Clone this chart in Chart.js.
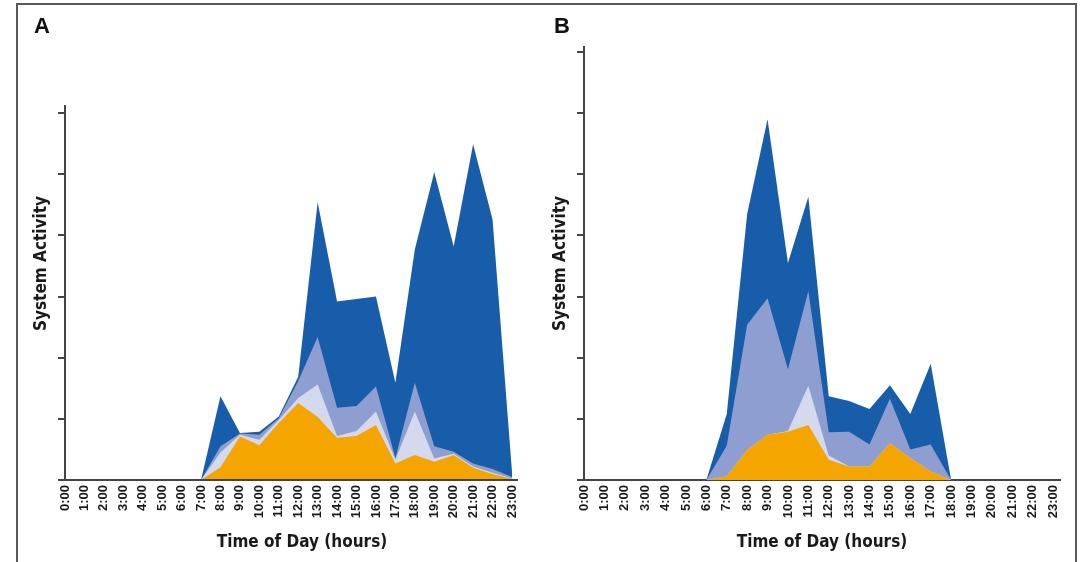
<!DOCTYPE html>
<html>
<head>
<meta charset="utf-8">
<script src="https://cdn.jsdelivr.net/npm/chart.js@4.4.1/dist/chart.umd.min.js"></script>
<style>
  html, body { margin: 0; padding: 0; background: #ffffff; }
  #wrap { position: relative; width: 1081px; height: 562px; overflow: hidden; background: #fff; }
  #frame { position: absolute; left: 16px; top: 3px; width: 1061px; height: 620px; border: 2px solid #5a5a5a; box-sizing: border-box; }
  canvas { position: absolute; left: 0; top: 0; }
  .plabel { position: absolute; font-family: "Liberation Sans", Arial, sans-serif; font-weight: bold; font-size: 22px; color: #111; line-height: 1; }
</style>
</head>
<body>
<div id="wrap">
  <div id="frame"></div>
  <canvas id="cA" width="1081" height="562"></canvas>
  <canvas id="cB" width="1081" height="562"></canvas>
  <div class="plabel" style="left:34px; top:15px;">A</div>
  <div class="plabel" style="left:554px; top:15px;">B</div>
</div>
<script>
// ---- data ----
const hours = ['0:00','1:00','2:00','3:00','4:00','5:00','6:00','7:00','8:00','9:00','10:00','11:00',
               '12:00','13:00','14:00','15:00','16:00','17:00','18:00','19:00','20:00','21:00','22:00','23:00'];
const yTicksA = [0, 1, 2, 3, 4, 5, 6];
const yTicksB = [0, 1, 2, 3, 4, 5, 6, 7];

// Panel A: top edge of each stacked band (cumulative)
const orangeA = [0,0,0,0,0,0,0,0,0.21,0.71,0.57,0.93,1.26,1.03,0.69,0.72,0.90,0.27,0.41,0.30,0.41,0.20,0.10,0.02];
const lightA  = [0,0,0,0,0,0,0,0,0.45,0.74,0.66,0.98,1.34,1.56,0.72,0.80,1.12,0.33,1.12,0.35,0.43,0.22,0.12,0.03];
const mediumA = [0,0,0,0,0,0,0,0,0.55,0.76,0.74,1.01,1.62,2.34,1.18,1.21,1.53,0.36,1.59,0.55,0.46,0.27,0.18,0.05];
const darkA   = [0,0,0,0,0,0,0,0,1.37,0.77,0.79,1.04,1.69,4.54,2.92,2.96,3.00,1.59,3.77,5.03,3.82,5.49,4.26,0.14];

// Panel B
const orangeB = [0,0,0,0,0,0,0,0.06,0.49,0.74,0.79,0.90,0.33,0.22,0.22,0.60,0.36,0.14,0,0,0,0,0,0];
const lightB  = [0,0,0,0,0,0,0,0.06,0.49,0.74,0.80,1.54,0.40,0.22,0.22,0.60,0.36,0.14,0,0,0,0,0,0];
const mediumB = [0,0,0,0,0,0,0,0.56,2.54,2.97,1.81,3.09,0.78,0.79,0.58,1.33,0.50,0.58,0,0,0,0,0,0];
const darkB   = [0,0,0,0,0,0,0,1.08,4.35,5.90,3.55,4.63,1.37,1.29,1.16,1.55,1.08,1.90,0,0,0,0,0,0];

const colors = { orange: '#f5a500', light: '#d4d9ee', medium: '#8e9ed0', dark: '#175da9' };
const axisColor = '#444444';
const titleFont = { family: "'Liberation Sans Narrow', 'DejaVu Sans Condensed', sans-serif", size: 17, weight: 'bold', lineHeight: 1.2 };
const tickFont = { family: "'Liberation Sans', Arial, sans-serif", size: 13, weight: 'bold' };

function pts(arr) { return arr.map((v, i) => ({ x: i, y: v })); }
function ds(arr, color) {
  return { data: pts(arr), backgroundColor: color, borderColor: 'rgba(0,0,0,0)', borderWidth: 0,
           pointRadius: 0, tension: 0, fill: 'origin' };
}

const axisLinesA = {
  id: 'axisLinesA',
  afterDraw(chart) {
    const { ctx, scales: { x, y } } = chart;
    const x0 = x.getPixelForValue(0), y0 = y.getPixelForValue(0);
    ctx.save();
    ctx.strokeStyle = axisColor; ctx.lineWidth = 2;
    ctx.beginPath();
    ctx.moveTo(x0, y.getPixelForValue(yTicksA[yTicksA.length - 1]) - 8);
    ctx.lineTo(x0, y0);
    ctx.lineTo(x.getPixelForValue(hours.length - 1) + 6, y0);
    ctx.stroke();
    ctx.restore();
  }
};

function makeChart(id, series, yTicks, xMax, yMax, padLeft, padRight, showBorder, plugins) {
  return new Chart(document.getElementById(id), {
    type: 'line',
    data: { datasets: [ds(series[0], colors.orange), ds(series[1], colors.light), ds(series[2], colors.medium), ds(series[3], colors.dark)] },
    options: {
      responsive: false, animation: false, devicePixelRatio: 1,
      layout: { padding: { left: padLeft, right: padRight, top: 47, bottom: 9 } },
      plugins: { legend: { display: false }, tooltip: { enabled: false } },
      scales: {
        x: {
          type: 'linear', min: 0, max: xMax,
          afterBuildTicks: (axis) => { axis.ticks = hours.map((h, i) => ({ value: i })); },
          afterFit: (scale) => { scale.height = 73; },
          ticks: { autoSkip: false, minRotation: 90, maxRotation: 90, padding: 5, color: '#1a1a1a', font: tickFont,
                   callback: (v) => hours[v] },
          grid: { display: false, drawTicks: false },
          border: { display: showBorder, color: axisColor, width: 2 },
          title: { display: true, text: 'Time of Day (hours)', color: '#1a1a1a', font: titleFont, padding: 0 }
        },
        y: {
          min: 0, max: yMax,
          afterBuildTicks: (axis) => { axis.ticks = yTicks.map(v => ({ value: v })); },
          afterFit: (scale) => { scale.width = 34; },
          ticks: { display: false },
          grid: { display: true, drawOnChartArea: false, drawTicks: true, tickLength: 7, color: axisColor, lineWidth: 2 },
          border: { display: showBorder, color: axisColor, width: 2 },
          title: { display: true, text: 'System Activity', color: '#1a1a1a', font: titleFont, padding: 0 }
        }
      }
    },
    plugins: plugins
  });
}

makeChart('cA', [orangeA, lightA, mediumA, darkA], yTicksA, 24.39, 7.08, 31, 1081 - 539, false, [axisLinesA]);
makeChart('cB', [orangeB, lightB, mediumB, darkB], yTicksB, 23.34, 7.08, 550, 1081 - 1060, true, []);
</script>
</body>
</html>
